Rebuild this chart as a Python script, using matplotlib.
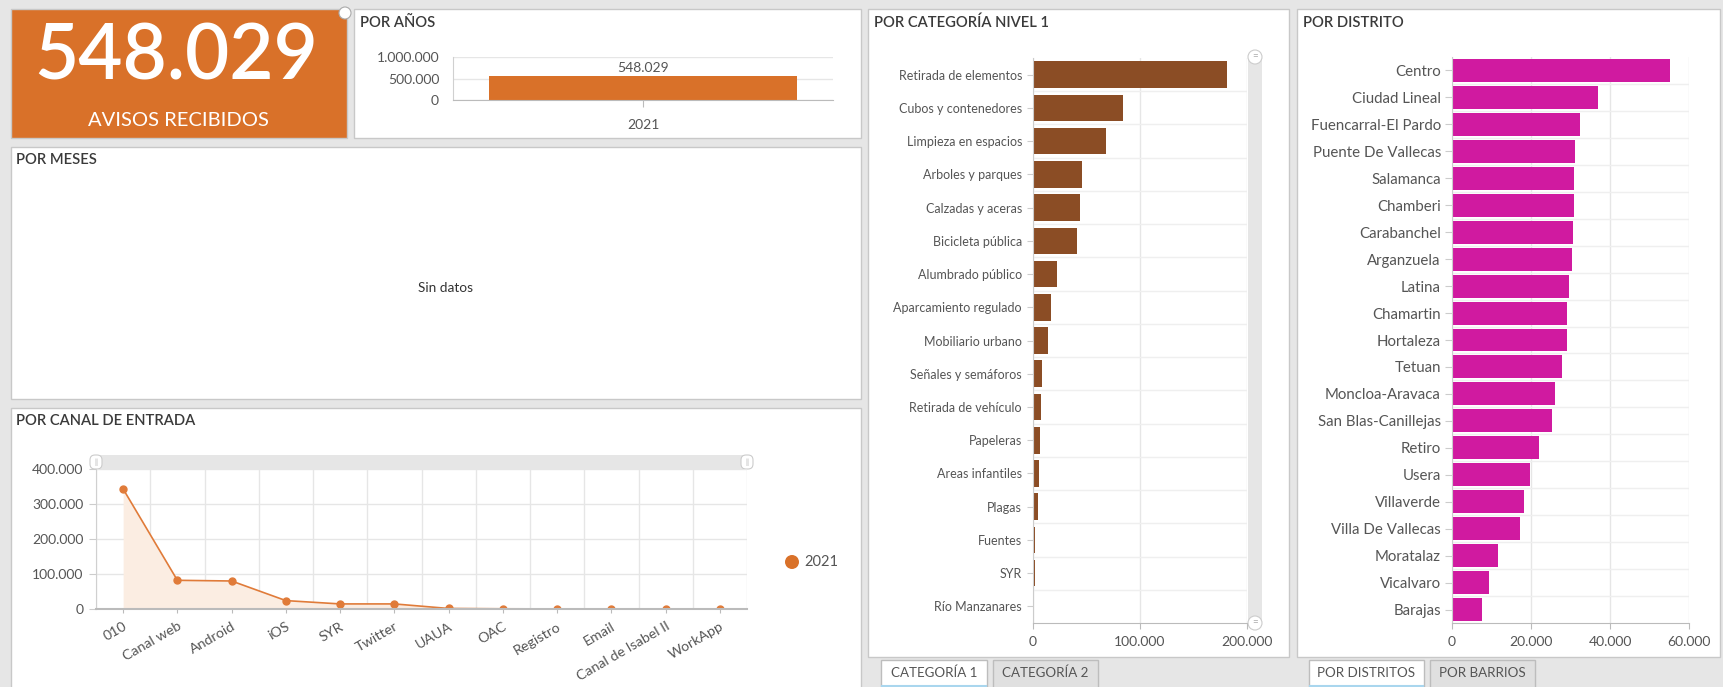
import matplotlib
matplotlib.use("Agg")
import matplotlib.pyplot as plt
from matplotlib.patches import Rectangle, Circle, FancyBboxPatch
from matplotlib.ticker import FuncFormatter
import numpy as np

plt.rcParams['font.family'] = ['Lato', 'DejaVu Sans']

W, H = 1723, 687

# === DATA ===
total_avisos = 548029

years = ["2021"]
year_values = [548029]

canales = ["010", "Canal web", "Android", "iOS", "SYR", "Twitter", "UAUA",
           "OAC", "Registro", "Email", "Canal de Isabel II", "WorkApp"]
canal_values = [343000, 82000, 80000, 24000, 14500, 14500, 1500,
                600, 300, 200, 150, 100]

categorias = ["Retirada de elementos", "Cubos y contenedores", "Limpieza en espacios",
              "Arboles y parques", "Calzadas y aceras", "Bicicleta pública",
              "Alumbrado público", "Aparcamiento regulado", "Mobiliario urbano",
              "Señales y semáforos", "Retirada de vehículo", "Papeleras",
              "Areas infantiles", "Plagas", "Fuentes", "SYR", "Río Manzanares"]
categoria_values = [181300, 84100, 68200, 45800, 43600, 40800, 22400, 16500,
                    13700, 8100, 7200, 6200, 5300, 4400, 2200, 2200, 600]

distritos = ["Centro", "Ciudad Lineal", "Fuencarral-El Pardo", "Puente De Vallecas",
             "Salamanca", "Chamberi", "Carabanchel", "Arganzuela", "Latina",
             "Chamartin", "Hortaleza", "Tetuan", "Moncloa-Aravaca",
             "San Blas-Canillejas", "Retiro", "Usera", "Villaverde",
             "Villa De Vallecas", "Moratalaz", "Vicalvaro", "Barajas"]
distrito_values = [55270, 36960, 32320, 31220, 30970, 30970, 30720, 30300, 29540,
                   29110, 29110, 27760, 26160, 25320, 22030, 19750, 18230, 17220,
                   11730, 9450, 7600]

# === STYLE ===
BG = "#e6e6e6"
BORDER = "#c8c8c8"
ORANGE = "#d97129"
BROWN = "#8b4d25"
MAGENTA = "#d01aa0"
TXT = "#555555"
TITLE = "#3a3a3a"
GRID = "#e6e6e6"


def fmt_num(v, pos=None):
    return f"{int(round(v)):,}".replace(",", ".")


fig = plt.figure(figsize=(W / 100, H / 100), dpi=100, facecolor=BG)

bg = fig.add_axes([0, 0, 1, 1])
bg.set_xlim(0, W)
bg.set_ylim(H, 0)
bg.axis("off")


def add_ax(x0, y0, x1, y1):
    ax = fig.add_axes([x0 / W, 1 - y1 / H, (x1 - x0) / W, (y1 - y0) / H])
    ax.set_facecolor("none")
    return ax


def panel(x0, y0, x1, y1, fc="white"):
    bg.add_patch(Rectangle((x0, y0), x1 - x0, y1 - y0, fc=fc, ec=BORDER, lw=1))


def title(x, y, s):
    bg.text(x, y, s, fontsize=10.6, color=TITLE, fontweight="semibold", va="center", ha="left")


def tab(x0, x1, s, active):
    fc = "white" if active else "#e0e0e0"
    bg.add_patch(Rectangle((x0, 660), x1 - x0, 40, fc=fc, ec="#bdbdbd", lw=1))
    if active:
        bg.plot([x0 + 1, x1 - 1], [686, 686], color="#a9d6ee", lw=1.5)
    bg.text((x0 + x1) / 2, 673, s, fontsize=9.6, color=TXT, ha="center", va="center")


# === PANELS ===
panel(11, 9, 347, 138, fc=ORANGE)
panel(354, 9, 861, 138)
panel(11, 147, 861, 399)
panel(11, 408, 861, 700)
panel(868, 9, 1289, 657)
panel(1297, 9, 1720, 657)

# big number
bg.text(176, 57, fmt_num(total_avisos), fontsize=55, fontweight="semibold", color="white",
        ha="center", va="center")
bg.text(178, 120, "AVISOS RECIBIDOS", fontsize=14.5, color="white", ha="center", va="center")
bg.add_patch(Circle((345, 13), 6, fc="white", ec="#aaaaaa", lw=0.8))

title(360, 23, "POR AÑOS")
title(16, 160, "POR MESES")
title(16, 421, "POR CANAL DE ENTRADA")
title(874, 23, "POR CATEGORÍA NIVEL 1")
title(1303, 23, "POR DISTRITO")

bg.text(446, 288, "Sin datos", fontsize=9.8, color="#333333", ha="center", va="center")

# === POR AÑOS ===
ax = add_ax(453, 57, 833, 100)
bars = ax.bar(range(len(years)), year_values, width=0.81, color=ORANGE)
ax.set_xlim(-0.5, len(years) - 0.5)
ax.set_ylim(0, 1000000)
ax.set_yticks([0, 500000, 1000000])
ax.yaxis.set_major_formatter(FuncFormatter(fmt_num))
ax.set_xticks(range(len(years)))
ax.set_xticklabels(years)
for b, v in zip(bars, year_values):
    ax.annotate(fmt_num(v), (b.get_x() + b.get_width() / 2, v), xytext=(0, 2),
                textcoords="offset points", ha="center", va="bottom", fontsize=10, color=TXT)
ax.grid(axis="y", color=GRID, lw=1)
ax.set_axisbelow(True)
for s in ["top", "right"]:
    ax.spines[s].set_visible(False)
ax.spines["left"].set_color("#d0d0d0")
ax.spines["bottom"].set_color("#bbbbbb")
ax.tick_params(axis="y", length=0, pad=10, labelsize=10, labelcolor=TXT)
ax.tick_params(axis="x", length=5, color="#bbbbbb", pad=9, labelsize=10, labelcolor=TXT)

# === POR CANAL DE ENTRADA ===
bg.add_patch(Rectangle((96, 455), 651, 14, fc="#e6e6e6", ec="none"))
for hx in (96, 747):
    bg.add_patch(FancyBboxPatch((hx - 6, 455), 12, 14, boxstyle="round,pad=0,rounding_size=5",
                                fc="white", ec="#cccccc", lw=0.8))
    bg.text(hx, 462, "||", fontsize=5.5, color="#999999", ha="center", va="center")

ax = add_ax(96, 469, 747, 609)
xs = np.arange(len(canales))
ax.fill_between(xs, canal_values, color="#fbede2", lw=0)
ax.plot(xs, canal_values, color="#e07b39", lw=1.2, marker="o", ms=5)
ax.set_xlim(-0.5, len(canales) - 0.5)
ax.set_ylim(0, 400000)
ax.set_yticks(np.arange(0, 400001, 100000))
ax.yaxis.set_major_formatter(FuncFormatter(fmt_num))
ax.set_xticks(xs)
ax.set_xticklabels(canales, rotation=30, ha="right", rotation_mode="anchor")
ax.set_xticks(np.arange(-0.5, len(canales), 1), minor=True)
ax.grid(axis="y", which="major", color=GRID, lw=1)
ax.grid(axis="x", which="minor", color=GRID, lw=1)
ax.set_axisbelow(True)
for s in ["top", "right"]:
    ax.spines[s].set_visible(False)
ax.spines["left"].set_color("#d0d0d0")
ax.spines["bottom"].set_color("#bbbbbb")
ax.spines["bottom"].set_linewidth(1.5)
ax.tick_params(axis="y", length=5, color="#cccccc", pad=4, labelsize=10, labelcolor=TXT)
ax.tick_params(axis="x", which="major", length=3, color="#bbbbbb", pad=5, labelsize=10.3,
               labelcolor=TXT)
ax.tick_params(axis="x", which="minor", length=0)

bg.add_patch(Circle((792, 562), 7, fc=ORANGE, ec="none"))
bg.text(804, 562, "2021", fontsize=10.5, color=TXT, ha="left", va="center")

# === POR CATEGORÍA NIVEL 1 ===
bg.add_patch(Rectangle((1248, 58), 14, 565, fc="#e6e6e6", ec="none"))
for hy in (57, 623):
    bg.add_patch(Circle((1255, hy), 7, fc="white", ec="#cccccc", lw=0.8))
    bg.text(1255, hy, "=", fontsize=7, color="#aaaaaa", ha="center", va="center")

ax = add_ax(1033, 58, 1247, 623)
ys = np.arange(len(categorias))
ax.barh(ys, categoria_values, height=0.8, color=BROWN)
ax.set_ylim(len(categorias) - 0.5, -0.5)
ax.set_xlim(0, 200000)
ax.set_xticks([0, 100000, 200000])
ax.xaxis.set_major_formatter(FuncFormatter(fmt_num))
ax.set_yticks(ys)
ax.set_yticklabels(categorias)
ax.set_yticks(np.arange(0.5, len(categorias) - 1, 1), minor=True)
ax.grid(axis="x", which="major", color=GRID, lw=1)
ax.grid(axis="y", which="minor", color="#efefef", lw=1)
ax.set_axisbelow(True)
for s in ["top", "right"]:
    ax.spines[s].set_visible(False)
ax.spines["left"].set_color("#cccccc")
ax.spines["bottom"].set_color("#bbbbbb")
ax.tick_params(axis="y", which="major", length=4, color="#cccccc", pad=4, labelsize=9,
               labelcolor=TXT)
ax.tick_params(axis="y", which="minor", length=0)
ax.tick_params(axis="x", length=4, color="#bbbbbb", pad=5, labelsize=10, labelcolor=TXT)

tab(881, 987, "CATEGORÍA 1", True)
tab(993, 1098, "CATEGORÍA 2", False)

# === POR DISTRITO ===
ax = add_ax(1452, 57, 1689, 623)
ys = np.arange(len(distritos))
ax.barh(ys, distrito_values, height=0.85, color=MAGENTA)
ax.set_ylim(len(distritos) - 0.5, -0.5)
ax.set_xlim(0, 60000)
ax.set_xticks([0, 20000, 40000, 60000])
ax.xaxis.set_major_formatter(FuncFormatter(fmt_num))
ax.set_yticks(ys)
ax.set_yticklabels(distritos)
ax.set_yticks(np.arange(0.5, len(distritos) - 1, 1), minor=True)
ax.grid(axis="x", which="major", color=GRID, lw=1)
ax.grid(axis="y", which="minor", color="#efefef", lw=1)
ax.set_axisbelow(True)
for s in ["top", "right"]:
    ax.spines[s].set_visible(False)
ax.spines["left"].set_color("#cccccc")
ax.spines["bottom"].set_color("#bbbbbb")
ax.tick_params(axis="y", which="major", length=5, color="#cccccc", pad=3, labelsize=10.8,
               labelcolor=TXT)
ax.tick_params(axis="y", which="minor", length=0)
ax.tick_params(axis="x", length=4, color="#bbbbbb", pad=5, labelsize=10, labelcolor=TXT)

tab(1309, 1424, "POR DISTRITOS", True)
tab(1430, 1535, "POR BARRIOS", False)

fig.savefig("out.png", dpi=100, facecolor=BG)
